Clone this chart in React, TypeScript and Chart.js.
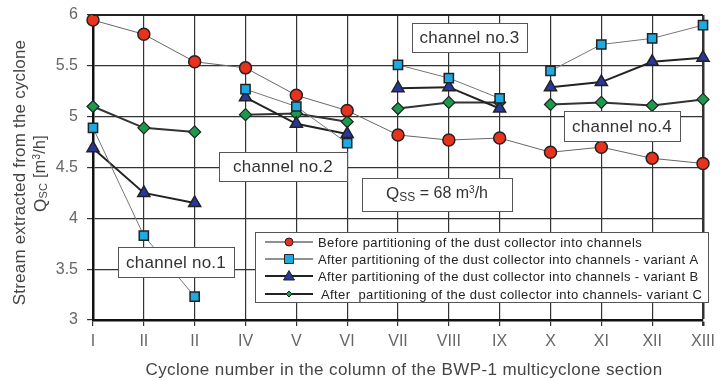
import React, { useEffect, useRef } from "react";
import { Chart, registerables } from "chart.js";

Chart.register(...registerables);

const labels = ["I", "II", "II", "IV", "V", "VI", "VII", "VIII", "IX", "X", "XI", "XII", "XIII"];
const beforePartitioning = [5.95, 5.81, 5.54, 5.48, 5.21, 5.06, 4.82, 4.77, 4.79, 4.65, 4.70, 4.59, 4.54];
const variantA = [4.89, 3.83, 3.23, 5.27, 5.10, 4.74, 5.51, 5.38, 5.18, 5.45, 5.71, 5.77, 5.90];
const variantB = [4.69, 4.25, 4.15, 5.19, 4.93, 4.83, 5.28, 5.29, 5.08, 5.29, 5.34, 5.54, 5.58];
const variantC = [5.10, 4.89, 4.85, 5.02, 5.03, 4.95, 5.08, 5.14, 5.14, 5.12, 5.14, 5.11, 5.17];
const channelBreaks = [2, 5, 8];
const legendLabels = [
  "Before partitioning of the dust collector into channels",
  "After partitioning of the dust collector into channels - variant A",
  "After partitioning of the dust collector into channels - variant B",
  "After  partitioning of the dust collector into channels- variant C",
];
const channelNotes = ["channel no.1", "channel no.2", "channel no.3", "channel no.4"];

const FONT = "'Liberation Sans', Arial, sans-serif";
const RED = "#e8321e";
const BLUE = "#1ea9e1";
const NAVY = "#27389a";
const GREEN = "#1c9a4c";

type Part = { t: string; size: number; dy?: number };

function drawRich(ctx: CanvasRenderingContext2D, parts: Part[], cx: number, cy: number, spacing = 0) {
  const c: any = ctx;
  c.letterSpacing = `${spacing}px`;
  let total = 0;
  for (const p of parts) {
    ctx.font = `${p.size}px ${FONT}`;
    total += ctx.measureText(p.t).width;
  }
  let x = cx - total / 2;
  ctx.textAlign = "left";
  ctx.textBaseline = "middle";
  for (const p of parts) {
    ctx.font = `${p.size}px ${FONT}`;
    ctx.fillText(p.t, x, cy + (p.dy || 0));
    x += ctx.measureText(p.t).width;
  }
  c.letterSpacing = "0px";
}

function box(ctx: CanvasRenderingContext2D, x: number, y: number, w: number, h: number) {
  ctx.fillStyle = "#fff";
  ctx.fillRect(x, y, w, h);
  ctx.strokeStyle = "#555";
  ctx.lineWidth = 1;
  ctx.strokeRect(x + 0.5, y + 0.5, w, h);
}

function marker(ctx: CanvasRenderingContext2D, kind: string, x: number, y: number, fill: string, r: number) {
  ctx.fillStyle = fill;
  ctx.strokeStyle = "#222";
  ctx.lineWidth = 1;
  ctx.beginPath();
  if (kind === "circle") ctx.arc(x, y, r, 0, Math.PI * 2);
  else if (kind === "rect") ctx.rect(x - r, y - r, r * 2, r * 2);
  else if (kind === "triangle") {
    ctx.moveTo(x, y - r * 1.1);
    ctx.lineTo(x + r * 1.1, y + r * 0.8);
    ctx.lineTo(x - r * 1.1, y + r * 0.8);
    ctx.closePath();
  } else {
    ctx.moveTo(x, y - r);
    ctx.lineTo(x + r, y);
    ctx.lineTo(x, y + r);
    ctx.lineTo(x - r, y);
    ctx.closePath();
  }
  ctx.fill();
  ctx.stroke();
}

const overlayPlugin = {
  id: "overlay",
  afterDraw(chart: any) {
    const ctx: CanvasRenderingContext2D = chart.ctx;
    const area = chart.chartArea;
    ctx.save();
    // top frame line
    ctx.strokeStyle = "#222";
    ctx.lineWidth = 2;
    ctx.beginPath();
    ctx.moveTo(area.left, area.top);
    ctx.lineTo(area.right, area.top);
    ctx.stroke();

    ctx.fillStyle = "#444";
    // Y title
    ctx.save();
    ctx.translate(20, (area.top + area.bottom) / 2 + 5);
    ctx.rotate(-Math.PI / 2);
    drawRich(ctx, [{ t: "Stream extracted from the cyclone", size: 17 }], 0, 0, 0.2);
    ctx.restore();
    ctx.save();
    ctx.translate(41, (area.top + area.bottom) / 2 + 6);
    ctx.rotate(-Math.PI / 2);
    ctx.fillStyle = "#444";
    drawRich(ctx, [
      { t: "Q", size: 17 },
      { t: "SC", size: 11, dy: 3 },
      { t: " [m", size: 16 },
      { t: "3", size: 10, dy: -4 },
      { t: "/h]", size: 16 },
    ], 0, 0, 0.3);
    ctx.restore();
    // X title
    ctx.fillStyle = "#444";
    drawRich(ctx, [{ t: "Cyclone number in the column of the BWP-1 multicyclone section", size: 17 }], (area.left + area.right) / 2 + 6, 370, 0.4);

    // channel notes
    const notes = [
      { x: 118, y: 247, w: 116, h: 30 },
      { x: 219, y: 152, w: 128, h: 29 },
      { x: 412, y: 23, w: 115, h: 29 },
      { x: 564, y: 111, w: 116, h: 30 },
    ];
    notes.forEach((n, i) => {
      box(ctx, n.x, n.y, n.w, n.h);
      ctx.fillStyle = "#333";
      drawRich(ctx, [{ t: channelNotes[i], size: 17 }], n.x + n.w / 2, n.y + n.h / 2 + 1, 0.2);
    });
    // Qss box
    box(ctx, 362, 178, 150, 33);
    ctx.fillStyle = "#333";
    drawRich(ctx, [
      { t: "Q", size: 17 },
      { t: "SS", size: 12, dy: 4 },
      { t: " = 68 m", size: 16 },
      { t: "3", size: 10, dy: -4 },
      { t: "/h", size: 16 },
    ], 437, 194);

    // legend
    box(ctx, 255, 232, 453, 70);
    const rows = [242, 259, 276, 294];
    const kinds = ["circle", "rect", "triangle", "rectRot"];
    const fills = [RED, BLUE, NAVY, GREEN];
    const lws = [1, 1, 2, 2];
    const sizes = [4, 4.5, 5, 3];
    rows.forEach((y, i) => {
      ctx.strokeStyle = "#222";
      ctx.lineWidth = lws[i];
      ctx.beginPath();
      ctx.moveTo(265, y);
      ctx.lineTo(313, y);
      ctx.stroke();
      marker(ctx, kinds[i], 289, y, fills[i], sizes[i]);
      ctx.fillStyle = "#222";
      ctx.font = `13px ${FONT}`;
      (ctx as any).letterSpacing = "0.4px";
      ctx.textAlign = "left";
      ctx.textBaseline = "middle";
      ctx.fillText(legendLabels[i], i === 3 ? 321 : 318, y + 1);
      (ctx as any).letterSpacing = "0px";
    });
    ctx.restore();
  },
};

const hideBreaks = (color: string) => (c: any) =>
  channelBreaks.includes(c.p0DataIndex) ? "rgba(0,0,0,0)" : color;

export default function App() {
  const ref = useRef<HTMLCanvasElement | null>(null);
  useEffect(() => {
    document.body.style.margin = "0";
    const chart = new Chart(ref.current as HTMLCanvasElement, {
      type: "line",
      data: {
        labels,
        datasets: [
          {
            label: legendLabels[0],
            data: beforePartitioning,
            borderColor: "#666",
            borderWidth: 1,
            pointStyle: "circle",
            pointRadius: 6,
            pointBackgroundColor: RED,
            pointBorderColor: "#222",
            pointBorderWidth: 1.5,
          },
          {
            label: legendLabels[1],
            data: variantA,
            borderColor: "#777",
            borderWidth: 1,
            pointStyle: "rect",
            pointRadius: 6.5,
            pointBackgroundColor: BLUE,
            pointBorderColor: "#222",
            pointBorderWidth: 1.5,
            segment: { borderColor: hideBreaks("#777") },
          },
          {
            label: legendLabels[2],
            data: variantB,
            borderColor: "#222",
            borderWidth: 2,
            pointStyle: "triangle",
            pointRadius: 7,
            pointBackgroundColor: NAVY,
            pointBorderColor: "#222",
            pointBorderWidth: 1.5,
            segment: { borderColor: hideBreaks("#222") },
          },
          {
            label: legendLabels[3],
            data: variantC,
            borderColor: "#333",
            borderWidth: 2,
            pointStyle: "rectRot",
            pointRadius: 6,
            pointBackgroundColor: GREEN,
            pointBorderColor: "#222",
            pointBorderWidth: 1.2,
            segment: { borderColor: hideBreaks("#333") },
          },
        ],
      },
      options: {
        animation: false,
        responsive: true,
        maintainAspectRatio: false,
        layout: { padding: { top: 15, right: 17, left: 0, bottom: 0 } },
        plugins: { legend: { display: false }, tooltip: { enabled: false } },
        scales: {
          x: {
            offset: false,
            afterFit: (s: any) => { s.height = 61; s.paddingLeft = 0; s.paddingRight = 0; },
            grid: {
              color: "#333",
              lineWidth: (c: any) => (c.index === labels.length - 1 ? 2.5 : 1.2),
              tickLength: 6,
            },
            border: { color: "#111", width: 2.5 },
            ticks: { color: "#666", font: { family: FONT, size: 16 }, padding: 6, maxRotation: 0, autoSkip: false },
          },
          y: {
            min: 3,
            max: 6,
            afterFit: (s: any) => { s.width = 93; s.paddingTop = 0; s.paddingBottom = 0; },
            grid: { color: "#333", lineWidth: 1.2, tickLength: 6 },
            border: { color: "#111", width: 2.5 },
            ticks: {
              stepSize: 0.5,
              color: "#666",
              font: { family: FONT, size: 16 },
              padding: 9,
              callback: (v: any) => String(v),
            },
          },
        },
      },
      plugins: [overlayPlugin],
    });
    return () => chart.destroy();
  }, []);
  return (
    <div style={{ position: "relative", width: 720, height: 381 }}>
      <canvas ref={ref} />
    </div>
  );
}
